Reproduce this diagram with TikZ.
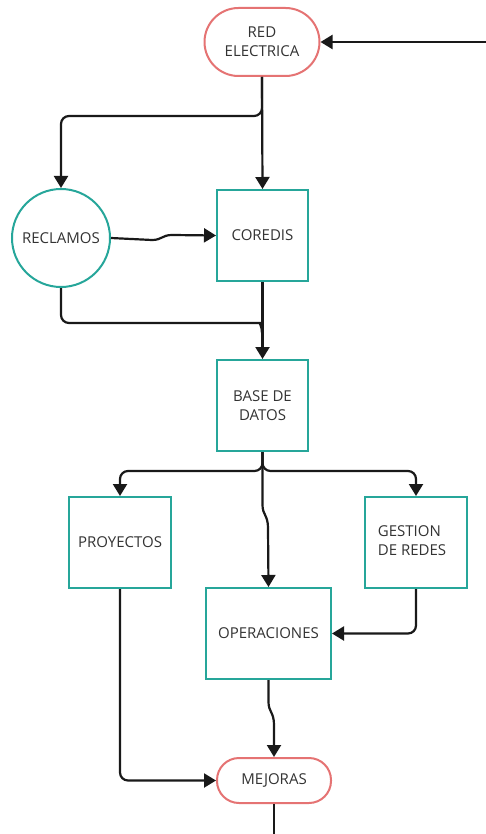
\documentclass[tikz,border=0pt]{standalone}
\usepackage{fontspec}
\setmainfont{Open Sans}
\usetikzlibrary{arrows.meta,calc}
\definecolor{teal1}{RGB}{38,166,154}
\definecolor{pink1}{RGB}{229,115,115}
\definecolor{txt}{RGB}{51,51,51}
\begin{document}
\begin{tikzpicture}[x=1pt,y=-1pt,
  font=\fontsize{15}{19}\selectfont, text=txt,
  boxnode/.style={draw=teal1, line width=2pt, fill=white, minimum width=#1, minimum height=91pt, inner sep=0pt, align=center},
  termnode/.style={draw=pink1, line width=2pt, fill=white, rounded corners=#1, inner sep=0pt, align=center},
  arr/.style={line width=2.2pt, draw=black!90, -{Triangle[length=12pt,width=14pt]}, rounded corners=8pt},
  ln/.style={line width=2.2pt, draw=black!90, rounded corners=8pt}]
\useasboundingbox (0,0) rectangle (486,834);
\node[termnode=34pt, minimum width=115pt, minimum height=68pt] (red) at (262,42) {RED\\ELECTRICA};
\node[circle, draw=teal1, line width=2pt, fill=white, minimum size=98pt, inner sep=0pt] (rec) at (61,238) {RECLAMOS};
\node[boxnode=91pt] (cor) at (262.5,235.5) {COREDIS};
\node[boxnode=91pt] (bd) at (262.5,405.5) {BASE DE\\DATOS};
\node[boxnode=102pt] (pro) at (120,542.5) {PROYECTOS};
\node[boxnode=102pt] (ges) at (416,542.5) {\hspace*{-8pt}\begin{tabular}{@{}l@{}}GESTION\\DE REDES\end{tabular}};
\node[boxnode=125pt] (ope) at (268.5,633.5) {OPERACIONES};
\node[termnode=22pt, minimum width=114pt, minimum height=45pt] (mej) at (274,780.5) {MEJORAS};
\coordinate (inR) at (486,42);
\coordinate (outM) at (274,834);
% connectors
\draw[arr] (inR) -- (red.east);
\draw[arr] (red.south) -- (cor.north);
\draw[arr] (red.south) -- (red.south |- 0,116) -| (rec.north);
\draw[arr, sharp corners] (rec.east) -- (152,240) .. controls (162,240) and (162,235) .. (172,235) -- (cor.west);
\draw[arr] (cor.south) -- (bd.north);
\draw[ln] (rec.south) |- (252,323) .. controls (259,323) and (262,326) .. (262,333);
\draw[arr] (bd.south) -- (bd.south |- 0,471) -| (pro.north);
\draw[arr] (bd.south) -- (bd.south |- 0,471) -| (ges.north);
\draw[arr, sharp corners] (bd.south) -- (262.5,505) .. controls (262.5,515) and (268,515) .. (268,528) -- (ope.north);
\draw[arr] (ges.south) |- (ope.east);
\draw[arr, sharp corners] (ope.south) -- (268.5,702) .. controls (268.5,712) and (274,712) .. (274,725) -- (mej.north);
\draw[arr] (pro.south) |- (mej.west);
\draw[ln] (mej.south) -- (outM);
\end{tikzpicture}
\end{document}
